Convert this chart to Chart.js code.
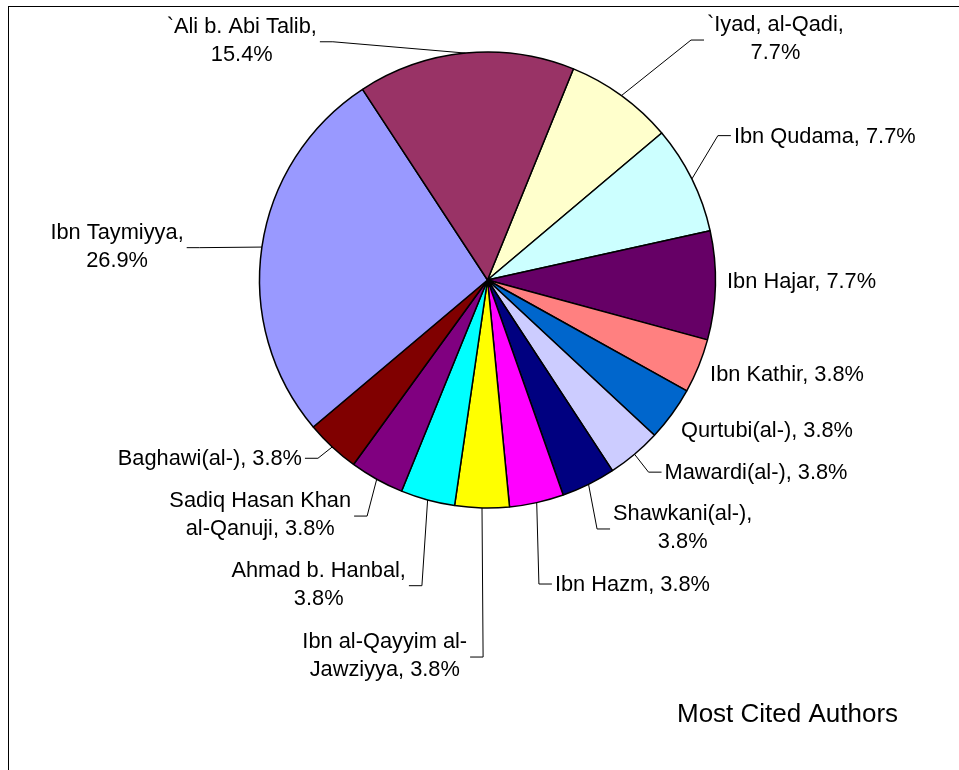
<!DOCTYPE html>
<html>
<head>
<meta charset="utf-8">
<title>Most Cited Authors</title>
<script src="https://cdn.jsdelivr.net/npm/chart.js@4.4.1/dist/chart.umd.min.js"></script>
<style>
  html, body { margin: 0; padding: 0; background: #fff; overflow: hidden; }
  #wrap { position: relative; width: 959px; height: 770px; }
  #frame { position: absolute; left: 8px; top: 6px; width: 1000px; height: 1000px; border: 1px solid #000; box-sizing: border-box; }
  #pie { position: absolute; left: 0; top: 0; }
</style>
</head>
<body>
<div id="wrap">
  <div id="frame"></div>
  <canvas id="pie" width="959" height="770"></canvas>
</div>
<script>
// =========================
// Data
// =========================
const authors = [
  "`Iyad, al-Qadi",
  "Ibn Qudama",
  "Ibn Hajar",
  "Ibn Kathir",
  "Qurtubi(al-)",
  "Mawardi(al-)",
  "Shawkani(al-)",
  "Ibn Hazm",
  "Ibn al-Qayyim al-Jawziyya",
  "Ahmad b. Hanbal",
  "Sadiq Hasan Khan al-Qanuji",
  "Baghawi(al-)",
  "Ibn Taymiyya",
  "`Ali b. Abi Talib",
];
const citations = [2, 2, 2, 1, 1, 1, 1, 1, 1, 1, 1, 1, 7, 4];
const sliceColors = [
  "#FFFFCC", "#CCFFFF", "#660066", "#FF8080", "#0066CC", "#CCCCFF", "#000080",
  "#FF00FF", "#FFFF00", "#00FFFF", "#800080", "#800000", "#9999FF", "#993366",
];

// where each label's first line breaks (null = one line)
const firstLines = [
  "`Iyad, al-Qadi,", null, null, null, null, null, "Shawkani(al-),", null,
  "Ibn al-Qayyim al-", "Ahmad b. Hanbal,", "Sadiq Hasan Khan", null,
  "Ibn Taymiyya,", "`Ali b. Abi Talib,",
];

// label attach point, offset from the slice's outer mid point: dx, dy, side, leader line
const labelPlace = [
  [82.5, -55.5, "left", true],
  [39, -43.3, "left", true],
  [8.6, -4.6, "left", false],
  [8.4, 7.9, "left", false],
  [6, 16, "left", false],
  [27, 17.9, "left", true],
  [21.5, 44.6, "left", true],
  [15.2, 81.4, "left", true],
  [-11.9, 149.1, "right", true],
  [-18.7, 85.7, "right", true],
  [-22.6, 36.8, "right", true],
  [-27.3, 11.3, "right", true],
  [-75.2, 0.6, "right", true],
  [-145.6, -11.3, "right", true],
];

const chartTitle = "Most Cited Authors";
const FONT = '"Liberation Sans", Arial, sans-serif';

const total = citations.reduce((a, b) => a + b, 0);

function labelLines(i) {
  const pct = ((citations[i] / total) * 100).toFixed(1);
  const full = `${authors[i]}, ${pct}%`;
  const first = firstLines[i];
  if (!first) return [full];
  return [first, full.slice(first.length).trim()];
}

// =========================
// Labels + leader lines
// =========================
const sliceLabels = {
  id: "sliceLabels",
  afterDatasetsDraw(chart) {
    const ctx = chart.ctx;
    const arcs = chart.getDatasetMeta(0).data;
    ctx.save();
    ctx.font = `21.8px ${FONT}`;
    ctx.fillStyle = "#000";
    ctx.strokeStyle = "#000";
    ctx.lineWidth = 1;
    ctx.textAlign = "center";
    ctx.textBaseline = "alphabetic";

    arcs.forEach((arc, i) => {
      const mid = (arc.startAngle + arc.endAngle) / 2;
      const ex = arc.x + Math.cos(mid) * arc.outerRadius;
      const ey = arc.y + Math.sin(mid) * arc.outerRadius;
      const [dx, dy, side, leader] = labelPlace[i];
      const ax = ex + dx;
      const ay = ey + dy;

      const lines = labelLines(i);
      const w = Math.max(...lines.map((l) => ctx.measureText(l).width));
      const cx = side === "left" ? ax + 3 + w / 2 : ax - 3 - w / 2;
      const base = lines.length === 1 ? ay + 7 : ay - 9;
      lines.forEach((l, k) => ctx.fillText(l, cx, base + k * 28));

      if (leader) {
        const kx = side === "left" ? ax - 13 : ax + 13;
        ctx.beginPath();
        ctx.moveTo(ax, ay);
        ctx.lineTo(kx, ay);
        ctx.lineTo(ex, ey);
        ctx.stroke();
      }
    });

    // chart title, bottom right
    ctx.font = `26px ${FONT}`;
    ctx.textAlign = "left";
    ctx.fillText(chartTitle, 677, 722);
    ctx.restore();
  },
};

// =========================
// Pie
// =========================
const pieCtx = document.getElementById("pie").getContext("2d");
new Chart(pieCtx, {
  type: "pie",
  data: {
    labels: authors,
    datasets: [
      {
        data: citations,
        backgroundColor: sliceColors,
        borderColor: "#000",
        borderWidth: 1.5,
      },
    ],
  },
  options: {
    responsive: false,
    animation: false,
    events: [],
    rotation: 22.15,
    radius: 228,
    layout: {
      padding: { left: 259.5, right: 243.5, top: 52, bottom: 262 },
    },
    plugins: {
      legend: { display: false },
      tooltip: { enabled: false },
    },
  },
  plugins: [sliceLabels],
});
</script>
</body>
</html>
